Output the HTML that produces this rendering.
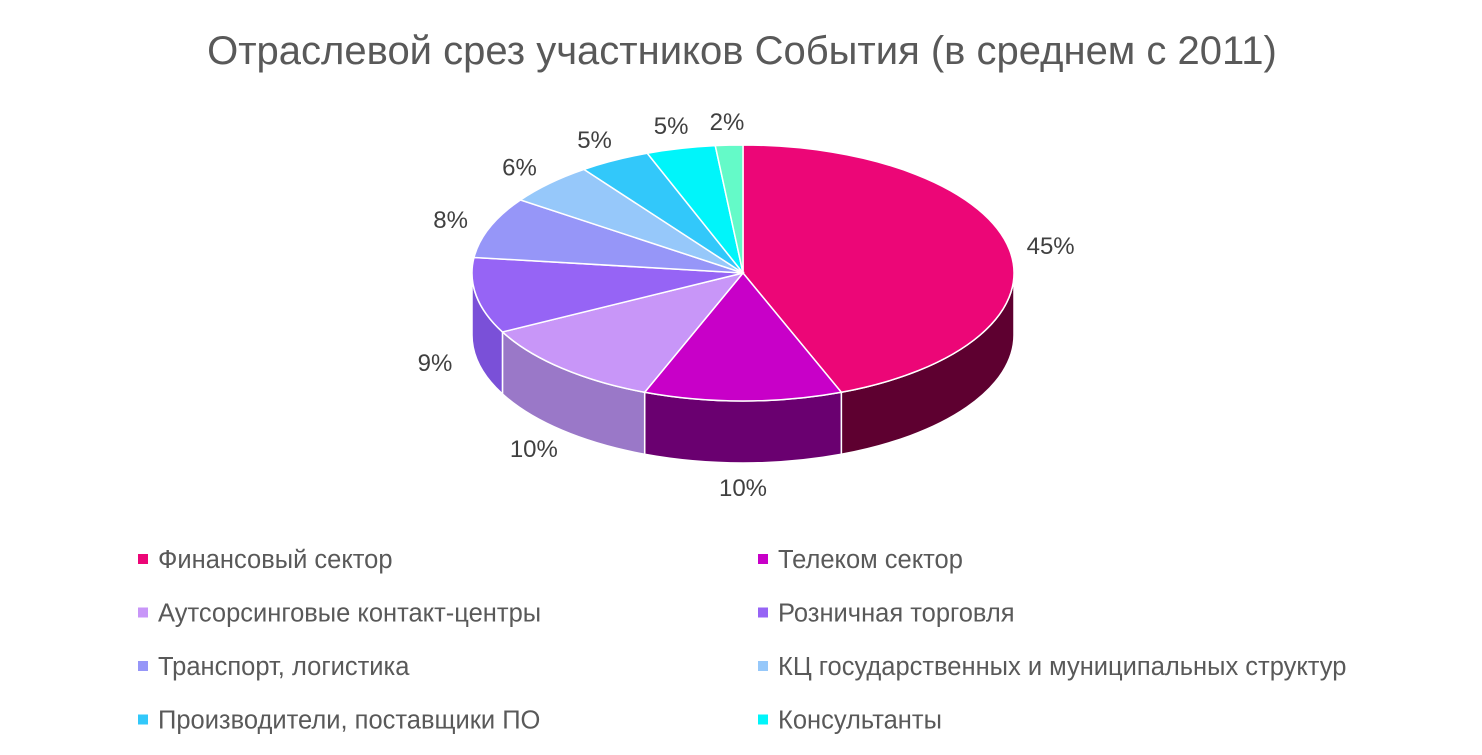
<!DOCTYPE html>
<html><head><meta charset="utf-8">
<style>
body{margin:0;background:#fff;width:1482px;height:750px;overflow:hidden;font-family:"Liberation Sans","DejaVu Sans",sans-serif;}
svg text{font-family:"Liberation Sans","DejaVu Sans",sans-serif;}
</style></head>
<body>
<svg id="chart" width="1482" height="750" viewBox="0 0 1482 750">
<text x="742" y="64" text-anchor="middle" font-size="40" fill="#595959">Отраслевой срез участников События (в среднем с 2011)</text>
<g id="sides"></g>
<g id="tops"></g>
<g id="labels"></g>
<g id="legend"></g>
</svg>
<script>
const categories=["Финансовый сектор","Телеком сектор","Аутсорсинговые контакт-центры","Розничная торговля","Транспорт, логистика","КЦ государственных и муниципальных структур","Производители, поставщики ПО","Консультанты","Другое"];
const values=[45,10,10,9,8,6,5,5,2];
const labelsText=["45%","10%","10%","9%","8%","6%","5%","5%","2%"];
const topColors=["#EC0677","#C800C8","#C896F8","#9664F5","#9696F8","#96C8FA","#32C8FA","#00F5FA","#64FAC8"];
const sideColors=["#5E0030","#6A0070","#9A78C8","#7A50D8","#7070D0","#70A0D0","#2090C0","#00B0B8","#40C090"];
const legendCount=8;
const NS="http://www.w3.org/2000/svg";
const cx=743,cy=273,rx=271,ry=128,depth=62;
function warp(a){return a-0.185*Math.sin(a);}
function pt(a,dy){return [cx+rx*Math.sin(a),cy-ry*Math.cos(a)+(dy||0)];}
const total=values.reduce((a,b)=>a+b,0);
const sides=document.getElementById('sides'),tops=document.getElementById('tops'),labs=document.getElementById('labels'),leg=document.getElementById('legend');
let acc=0;
values.forEach((v,i)=>{
  const a0=warp(acc/total*2*Math.PI), a1=warp((acc+v)/total*2*Math.PI); acc+=v;
  const s0=Math.max(a0,Math.PI/2), s1=Math.min(a1,3*Math.PI/2);
  if(s1>s0){
    const p0=pt(s0),p1=pt(s1),q1=pt(s1,depth),q0=pt(s0,depth);
    const large=(s1-s0)>Math.PI?1:0;
    const d=`M${p0[0]},${p0[1]} A${rx},${ry} 0 ${large} 1 ${p1[0]},${p1[1]} L${q1[0]},${q1[1]} A${rx},${ry} 0 ${large} 0 ${q0[0]},${q0[1]} Z`;
    const p=document.createElementNS(NS,'path');
    p.setAttribute('d',d);p.setAttribute('fill',sideColors[i]);p.setAttribute('stroke','#fff');p.setAttribute('stroke-width','1.5');
    
    
    sides.appendChild(p);
  }
  const p0=pt(a0),p1=pt(a1);
  const large=(a1-a0)>Math.PI?1:0;
  const t=document.createElementNS(NS,'path');
  t.setAttribute('d',`M${cx},${cy} L${p0[0]},${p0[1]} A${rx},${ry} 0 ${large} 1 ${p1[0]},${p1[1]} Z`);
  t.setAttribute('fill',topColors[i]);t.setAttribute('stroke','#fff');t.setAttribute('stroke-width','1.5');
  
  
  tops.appendChild(t);
  const m=(a0+a1)/2, c=Math.cos(m);
  const lx=cx+(rx+42)*Math.sin(m), ly=cy-(ry+24)*c+(c<0?depth:0)+9;
  const tx=document.createElementNS(NS,'text');
  tx.setAttribute('x',lx);tx.setAttribute('y',ly);tx.setAttribute('text-anchor','middle');
  tx.setAttribute('font-size','24');tx.setAttribute('fill','#404040');
  tx.textContent=labelsText[i];
  
  
  labs.appendChild(tx);
});
for(let i=0;i<legendCount;i++){
  const col=i%2,row=Math.floor(i/2);
  const x=col?763:143,y=559+row*53.5;
  const g=document.createElementNS(NS,'g');
  
  
  const r=document.createElementNS(NS,'rect');
  r.setAttribute('x',x-5);r.setAttribute('y',y-5);r.setAttribute('width',10);r.setAttribute('height',10);r.setAttribute('fill',topColors[i]);
  const tx=document.createElementNS(NS,'text');
  tx.setAttribute('x',x+15);tx.setAttribute('y',y+9);tx.setAttribute('font-size','25.5');tx.setAttribute('fill','#595959');
  tx.textContent=categories[i];
  g.appendChild(r);g.appendChild(tx);leg.appendChild(g);
}
</script>
</body></html>
